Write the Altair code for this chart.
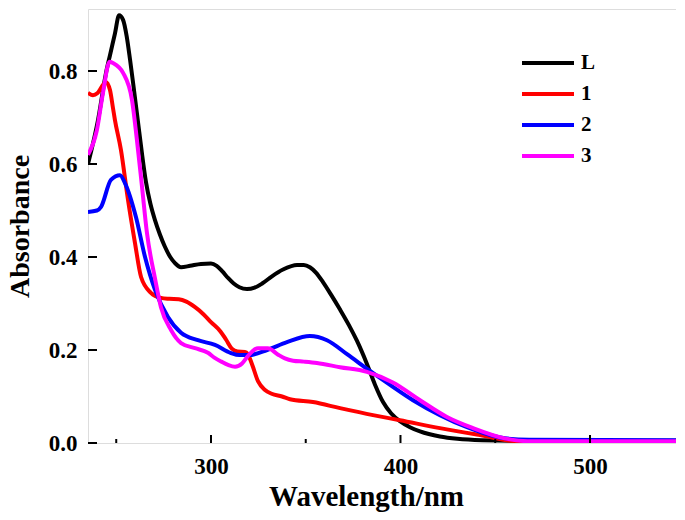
import altair as alt
import pandas as pd

# ---- data ----
series_names = ["L", "1", "2", "3"]
series_colors = ["#000000", "#ff0000", "#0000ff", "#ff00ff"]

wl_L = [235.1, 240.4, 244.6, 246.7, 249.3, 251.5, 253.6, 255.5, 257.3, 259.5, 261.5, 263.5,
        265.7, 268.0, 270.4, 273.0, 275.7, 278.5, 281.0, 284.2, 289.0, 294.7, 300.0, 303.0,
        306.0, 309.0, 312.0, 315.0, 319.0, 323.0, 327.0, 332.0, 338.0, 345.4, 349.0, 352.2,
        355.5, 359.1, 363.5, 368.1, 373.0, 377.0, 382.3, 386.5, 390.8, 395.0, 399.7, 405.0,
        410.3, 420.8, 430.0, 443.0, 460.0, 549.0]
abs_L = [0.600, 0.695, 0.796, 0.834, 0.880, 0.920, 0.910, 0.875, 0.824, 0.755, 0.690, 0.625,
         0.561, 0.515, 0.480, 0.449, 0.422, 0.400, 0.387, 0.378, 0.381, 0.385, 0.386, 0.381,
         0.369, 0.355, 0.343, 0.335, 0.331, 0.334, 0.343, 0.358, 0.373, 0.383, 0.383, 0.378,
         0.366, 0.346, 0.318, 0.287, 0.252, 0.220, 0.170, 0.126, 0.088, 0.064, 0.047, 0.034,
         0.025, 0.014, 0.009, 0.006, 0.005, 0.005]

wl_1 = [235.1, 237.7, 240.0, 243.0, 244.6, 246.7, 248.3, 249.3, 252.5, 256.2, 259.9, 263.1,
        268.3, 273.6, 278.0, 283.0, 287.0, 291.6, 296.0, 300.0, 305.0, 308.0, 311.0, 314.0,
        317.9, 319.3, 321.6, 324.8, 328.5, 332.0, 337.5, 341.7, 353.8, 368.1, 385.5, 399.7,
        420.8, 442.0, 461.5, 549.0]
abs_1 = [0.753, 0.748, 0.752, 0.770, 0.776, 0.759, 0.720, 0.695, 0.630, 0.523, 0.430, 0.357,
         0.323, 0.312, 0.310, 0.309, 0.304, 0.292, 0.277, 0.260, 0.240, 0.222, 0.203, 0.197,
         0.196, 0.192, 0.170, 0.133, 0.114, 0.106, 0.100, 0.094, 0.088, 0.075, 0.060, 0.049,
         0.032, 0.017, 0.004, 0.004]

wl_2 = [235.1, 239.8, 242.0, 247.2, 252.0, 254.6, 260.4, 265.2, 270.4, 277.3, 284.2, 293.1,
        302.1, 310.3, 315.0, 320.0, 329.6, 340.1, 352.2, 361.2, 371.8, 383.9, 394.5, 406.6,
        420.8, 435.1, 442.0, 455.0, 468.0, 549.0]
abs_2 = [0.497, 0.500, 0.508, 0.566, 0.576, 0.559, 0.486, 0.400, 0.330, 0.271, 0.237, 0.221,
         0.211, 0.194, 0.189, 0.189, 0.200, 0.217, 0.230, 0.221, 0.191, 0.155, 0.125, 0.092,
         0.060, 0.034, 0.024, 0.010, 0.007, 0.006]

wl_3 = [235.1, 239.8, 243.0, 246.5, 248.3, 253.6, 258.3, 260.9, 263.6, 266.2, 270.4, 273.6,
        278.9, 284.2, 291.6, 298.4, 302.0, 305.5, 309.0, 312.7, 316.4, 319.5, 322.0, 324.8,
        330.0, 335.4, 339.0, 343.3, 349.0, 355.9, 368.1, 382.3, 396.0, 410.3, 424.5, 438.3,
        455.0, 467.0, 549.0]
abs_3 = [0.620, 0.673, 0.753, 0.820, 0.817, 0.796, 0.738, 0.652, 0.551, 0.452, 0.355, 0.292,
         0.243, 0.215, 0.204, 0.194, 0.183, 0.175, 0.168, 0.164, 0.171, 0.187, 0.198, 0.204,
         0.204, 0.190, 0.182, 0.177, 0.175, 0.172, 0.163, 0.153, 0.130, 0.092, 0.056, 0.032,
         0.010, 0.004, 0.004]

x_major = [300, 400, 500]
x_minor = [250, 350, 450]
y_major = [0.0, 0.2, 0.4, 0.6, 0.8]

# ---- build table ----
rows = []
for name, wl, ab in [("L", wl_L, abs_L), ("1", wl_1, abs_1), ("2", wl_2, abs_2), ("3", wl_3, abs_3)]:
    for w, a in zip(wl, ab):
        rows.append({"wavelength": w, "absorbance": a, "series": name})
df = pd.DataFrame(rows)

FONT = "Liberation Serif"
W, H = 588, 434
X_DOMAIN = [235.1, 235.1 + W / 1.895]
Y_DOMAIN = [0, H / 465]

xscale = alt.Scale(domain=X_DOMAIN, nice=False, zero=False)
yscale = alt.Scale(domain=Y_DOMAIN, nice=False, zero=False)

xaxis = alt.Axis(title="Wavelength/nm", values=x_major, format="d",
                 ticks=False, tickSize=0, domain=False, grid=False,
                 labelFont=FONT, labelFontWeight="bold", labelFontSize=23,
                 labelColor="black", labelBaseline="alphabetic", labelPadding=30,
                 titleFont=FONT, titleFontWeight="bold", titleFontSize=29,
                 titleColor="black", titleX=278, titleY=62,
                 titleBaseline="alphabetic")
yaxis = alt.Axis(title="Absorbance", values=y_major, format=".1f",
                 ticks=False, tickSize=0, domain=False, grid=False,
                 labelFont=FONT, labelFontWeight="bold", labelFontSize=23,
                 labelColor="black", labelPadding=11,
                 titleFont=FONT, titleFontWeight="bold", titleFontSize=28,
                 titleColor="black", titleX=-60, titleY=217, titleAngle=270,
                 titleBaseline="alphabetic")

lines = alt.Chart(df).mark_line(strokeWidth=4, interpolate="monotone", clip=True).encode(
    x=alt.X("wavelength:Q", scale=xscale, axis=xaxis, title="Wavelength/nm"),
    y=alt.Y("absorbance:Q", scale=yscale, axis=yaxis, title="Absorbance"),
    color=alt.Color("series:N", scale=alt.Scale(domain=series_names, range=series_colors),
                    sort=series_names,
                    legend=alt.Legend(title=None, orient="none", legendX=448, legendY=42,
                                      symbolType="M-2.6,0H2.6", symbolSize=400,
                                      symbolStrokeWidth=4, labelFont=FONT,
                                      labelFontWeight="bold", labelFontSize=21,
                                      labelColor="black", labelOffset=21, rowPadding=9,
                                      padding=0)),
)

ytick_df = pd.DataFrame({"absorbance": y_major})
xmaj_df = pd.DataFrame({"wavelength": x_major})
xmin_df = pd.DataFrame({"wavelength": x_minor})

yticks = alt.Chart(ytick_df).mark_rule(color="black", strokeWidth=2).encode(
    y=alt.Y("absorbance:Q", scale=yscale, axis=yaxis, title="Absorbance"),
    x=alt.value(0), x2=alt.value(9))
xticks_major = alt.Chart(xmaj_df).mark_rule(color="black", strokeWidth=2).encode(
    x=alt.X("wavelength:Q", scale=xscale, axis=xaxis, title="Wavelength/nm"),
    y=alt.value(H), y2=alt.value(H - 8))
xticks_minor = alt.Chart(xmin_df).mark_rule(color="black", strokeWidth=2).encode(
    x=alt.X("wavelength:Q", scale=xscale, axis=xaxis, title="Wavelength/nm"),
    y=alt.value(H), y2=alt.value(H - 4))

chart = alt.layer(lines, yticks, xticks_major, xticks_minor).properties(
    width=W, height=H,
    autosize=alt.AutoSizeParams(type="none"),
    padding={"left": 80, "top": 1, "right": 0, "bottom": 69},
).configure_view(stroke="black", strokeWidth=2).configure(background="white")

chart.save("out.html", embed_options={"renderer": "svg", "actions": False})
